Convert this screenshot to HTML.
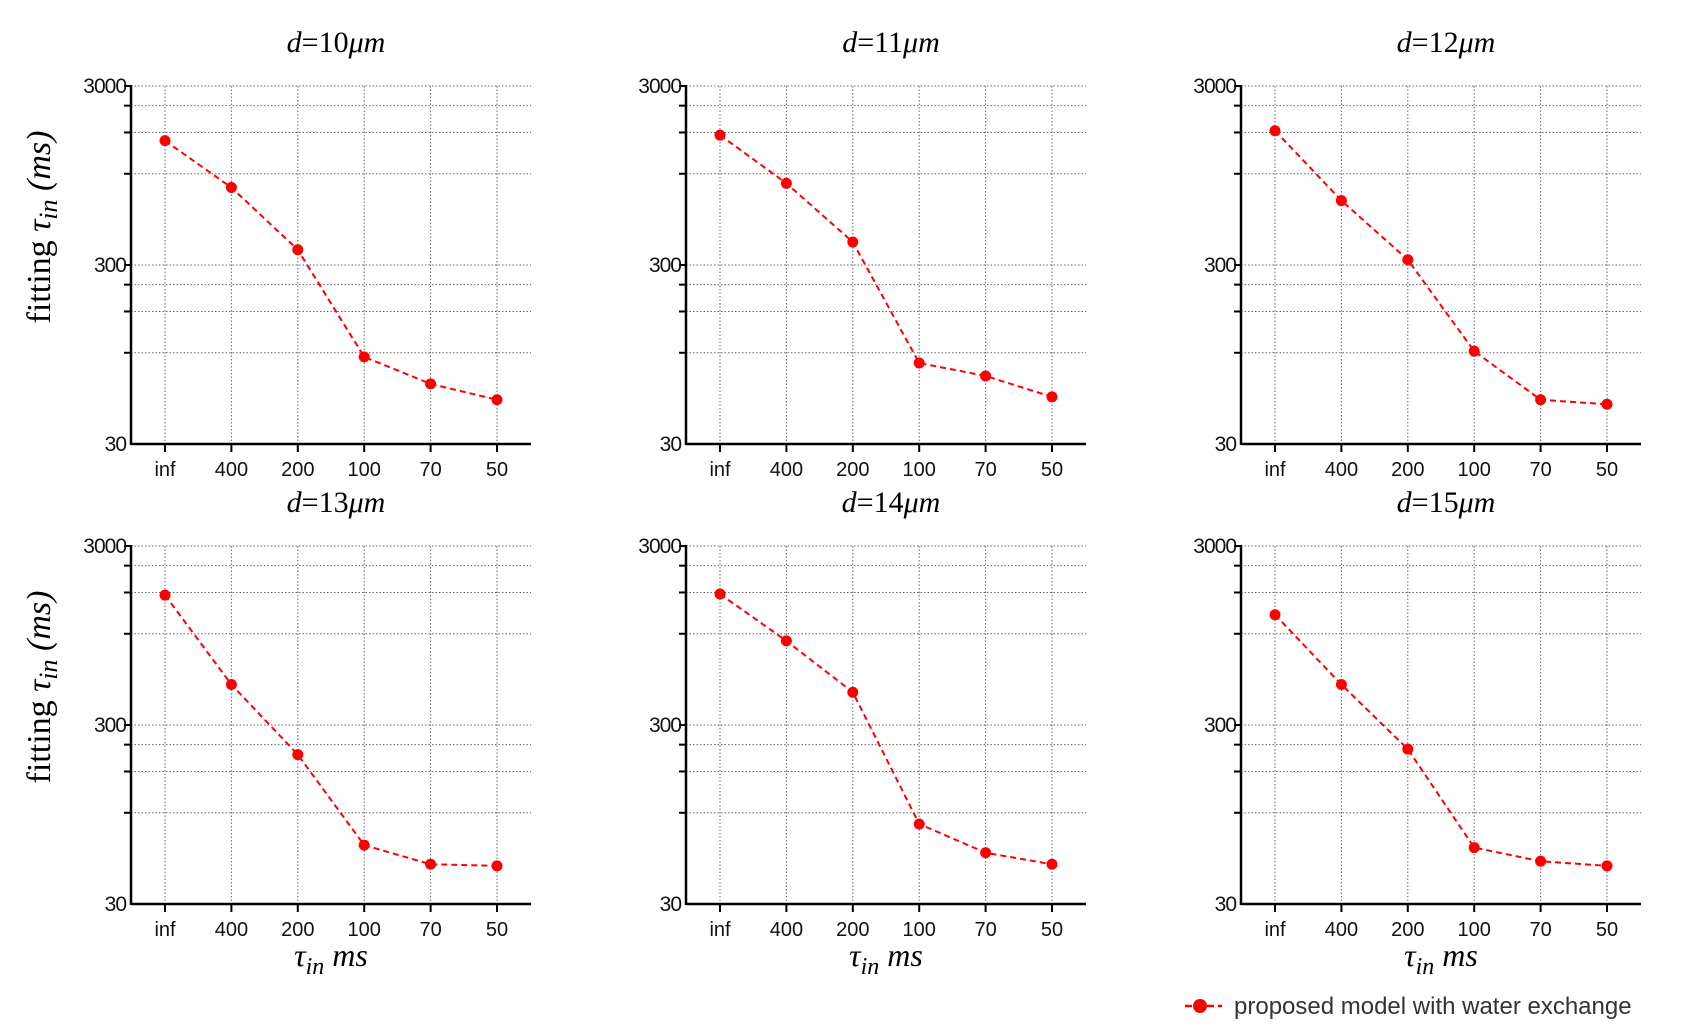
<!DOCTYPE html>
<html><head><meta charset="utf-8"><style>
body{margin:0;background:#fff;width:1706px;height:1034px;overflow:hidden}
svg{display:block}
</style></head><body>
<svg id="c" width="1706" height="1034" xmlns="http://www.w3.org/2000/svg"></svg>
<script>
const categories = ["inf","400","200","100","70","50"];
const titles = ["10","11","12","13","14","15"];
const series1 = [1485, 813, 365, 92, 65, 53];
const series2 = [1595, 858, 403, 85, 72, 55];
const series3 = [1687, 687, 321, 99, 53, 50];
const series4 = [1595, 505, 205, 64, 50, 49];
const series5 = [1617, 885, 457, 84, 58, 50];
const series6 = [1239, 505, 220, 62, 52, 49];
const yTicks = [3000, 300, 30];
const yGrid = [2330, 1650, 970, 233, 165, 97];
const allSeries = [series1, series2, series3, series4, series5, series6];

const NS = "http://www.w3.org/2000/svg";
const svg = document.getElementById("c");
function mk(tag, attrs, parent, text){
  const e = document.createElementNS(NS, tag);
  for (const k in attrs) e.setAttribute(k, attrs[k]);
  if (text !== undefined) e.textContent = text;
  (parent || svg).appendChild(e);
  return e;
}
const colX = [131, 686, 1241];
const rowY = [86, 546];
const W = 400, H = 358;
for (let p = 0; p < 6; p++){
  const ax = colX[p % 3], top = rowY[Math.floor(p / 3)], bot = top + H;
  const g = mk("g", {});
  
  
  const yS = v => bot - (Math.log10(v) - Math.log10(30)) / 2 * H;
  const xS = i => ax + 34 + i * 66.4;
  yGrid.concat([3000, 300]).forEach(v => {
    const l = mk("line", {x1: ax, x2: ax + W, y1: yS(v), y2: yS(v), stroke: "#666", "stroke-width": 1, "stroke-dasharray": "1.5,2"}, g);
    
    
    mk("line", {x1: ax - 7, x2: ax, y1: yS(v), y2: yS(v), stroke: "#000", "stroke-width": 2}, g);
  });
  categories.forEach((c, i) => {
    const l = mk("line", {x1: xS(i), x2: xS(i), y1: top, y2: bot, stroke: "#666", "stroke-width": 1, "stroke-dasharray": "1.5,2"}, g);
    
    
    mk("line", {x1: xS(i), x2: xS(i), y1: bot, y2: bot + 8, stroke: "#000", "stroke-width": 2}, g);
    const t = mk("text", {x: xS(i), y: bot + 32, "text-anchor": "middle", "font-family": "Liberation Sans, sans-serif", "font-size": 20, fill: "#111"}, g, c);
    
    
  });
  yTicks.forEach(v => {
    const t = mk("text", {x: ax - 5, y: yS(v) + 7, "text-anchor": "end", "font-family": "Liberation Sans, sans-serif", "font-size": 21, fill: "#111", "letter-spacing": "-1"}, g, v);
    
    
  });
  const ya = mk("line", {x1: ax, x2: ax, y1: top - 1, y2: bot + 1, stroke: "#000", "stroke-width": 2.5}, g);
  
  
  const xa = mk("line", {x1: ax, x2: ax + W, y1: bot, y2: bot, stroke: "#000", "stroke-width": 2.5}, g);
  
  
  const s = allSeries[p];
  const pts = s.map((v, i) => xS(i) + "," + yS(v)).join(" ");
  const ln = mk("polyline", {points: pts, fill: "none", stroke: "#f00", "stroke-width": 2, "stroke-dasharray": "6,4"}, g);
  
  
  s.forEach((v, i) => {
    const c = mk("circle", {cx: xS(i), cy: yS(v), r: 5.5, fill: "#f00"}, g);
    
    
  });
  const tt = mk("text", {x: ax + 205, y: top - 34, "text-anchor": "middle", "font-family": "Liberation Serif, serif", "font-size": 30, fill: "#000"}, g);
  
  
  mk("tspan", {"font-style": "italic"}, tt, "d");
  mk("tspan", {}, tt, "=" + titles[p]);
  mk("tspan", {"font-style": "italic"}, tt, "μm");
  if (p % 3 === 0){
    const cy = (top + bot) / 2 - 38;
    const yt = mk("text", {x: 0, y: 0, transform: `translate(50,${cy}) rotate(-90)`, "text-anchor": "middle", "font-family": "Liberation Serif, serif", "font-size": 34, fill: "#000"}, g);
    
    
    mk("tspan", {}, yt, "fitting ");
    mk("tspan", {"font-style": "italic"}, yt, "τ");
    mk("tspan", {"font-style": "italic", "font-size": 26, dy: 7}, yt, "in");
    mk("tspan", {"font-style": "italic", dy: -7}, yt, " (ms)");
  }
  if (p >= 3){
    const xt = mk("text", {x: ax + 200, y: bot + 62, "text-anchor": "middle", "font-family": "Liberation Serif, serif", "font-size": 32, "font-style": "italic", fill: "#000"}, g);
    
    
    mk("tspan", {}, xt, "τ");
    mk("tspan", {"font-size": 24, dy: 8}, xt, "in");
    mk("tspan", {dy: -8}, xt, " ms");
  }
}
const lg = mk("g", {});


mk("line", {x1: 1185, x2: 1222, y1: 1006, y2: 1006, stroke: "#f00", "stroke-width": 2.5, "stroke-dasharray": "7,4"}, lg);
mk("circle", {cx: 1200, cy: 1006, r: 7, fill: "#f00"}, lg);
mk("text", {x: 1234, y: 1014, "font-family": "Liberation Sans, sans-serif", "font-size": 24, fill: "#333"}, lg, "proposed model with water exchange");
</script>
</body></html>
